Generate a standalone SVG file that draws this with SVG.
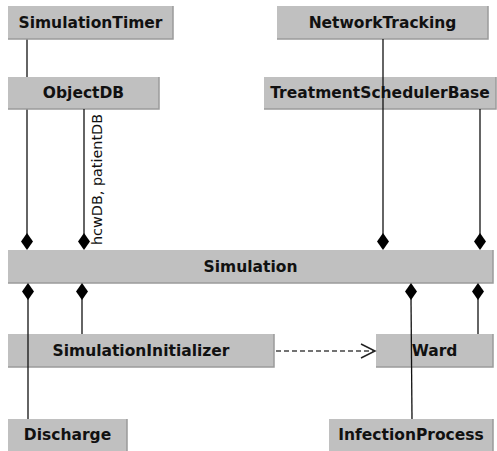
<svg xmlns="http://www.w3.org/2000/svg" width="497" height="451" viewBox="0 0 497 451">
<defs>
<style>
.box{fill:#c0c0c0;}
.edge{stroke:#9a9a9a;stroke-width:1.5;fill:none;}
.t{font-family:"DejaVu Sans",sans-serif;font-weight:bold;font-size:15.5px;fill:#111;text-anchor:middle;}
.lbl{font-family:"DejaVu Sans",sans-serif;font-size:14.4px;fill:#111;}
.ln{stroke:#111;stroke-width:1.3;fill:none;}
.dm{fill:#000;}
</style>
<path id="dmd" d="M0,-8.5 L6,0 L0,8.5 L-6,0 Z"/>
</defs>
<rect x="0" y="0" width="497" height="451" fill="#fff"/>
<g id="connectors-under">
<line class="ln" x1="27" y1="39" x2="27" y2="235"/>
</g>
<g id="SimulationTimer">
<rect class="box" x="8" y="6" width="165" height="33"/>
<polyline class="edge" points="173,6 173,39 8,39"/>
<text class="t" x="90.5" y="27.5">SimulationTimer</text>
</g>
<g id="NetworkTracking">
<rect class="box" x="277" y="6" width="211" height="33"/>
<polyline class="edge" points="488,6 488,39 277,39"/>
<text class="t" x="382.5" y="27.5">NetworkTracking</text>
</g>
<g id="ObjectDB">
<rect class="box" x="8" y="77" width="151" height="32"/>
<polyline class="edge" points="159,77 159,109 8,109"/>
<text class="t" x="83.5" y="98">ObjectDB</text>
</g>
<g id="TreatmentSchedulerBase">
<rect class="box" x="264" y="77" width="232" height="32"/>
<polyline class="edge" points="496,77 496,109 264,109"/>
<text class="t" x="380" y="98">TreatmentSchedulerBase</text>
</g>
<g id="Simulation">
<rect class="box" x="8" y="250" width="485" height="33"/>
<polyline class="edge" points="493,250 493,283 8,283"/>
<text class="t" x="250.5" y="271.5">Simulation</text>
</g>
<g id="SimulationInitializer">
<rect class="box" x="8" y="334" width="266" height="33"/>
<polyline class="edge" points="274,334 274,367 8,367"/>
<text class="t" x="141" y="355.5">SimulationInitializer</text>
</g>
<g id="Ward">
<rect class="box" x="376" y="334" width="117" height="33"/>
<polyline class="edge" points="493,334 493,367 376,367"/>
<text class="t" x="434.5" y="355.5">Ward</text>
</g>
<g id="Discharge">
<rect class="box" x="8" y="419" width="119" height="32"/>
<polyline class="edge" points="127,419 127,451"/>
<text class="t" x="67.5" y="440">Discharge</text>
</g>
<g id="InfectionProcess">
<rect class="box" x="329" y="419" width="164" height="32"/>
<polyline class="edge" points="493,419 493,451"/>
<text class="t" x="411" y="440">InfectionProcess</text>
</g>
<g id="connectors">
<line class="ln" x1="84" y1="109" x2="84" y2="235"/>
<line class="ln" x1="383" y1="39" x2="383" y2="235"/>
<line class="ln" x1="480" y1="109" x2="480" y2="235"/>
<line class="ln" x1="28" y1="298" x2="28" y2="419"/>
<line class="ln" x1="82" y1="298" x2="82" y2="334"/>
<line class="ln" x1="411" y1="298" x2="412" y2="419"/>
<line class="ln" x1="478" y1="298" x2="478" y2="334"/>
<use href="#dmd" class="dm" x="27" y="241.5"/>
<use href="#dmd" class="dm" x="84" y="241.5"/>
<use href="#dmd" class="dm" x="383" y="241.5"/>
<use href="#dmd" class="dm" x="480" y="241.5"/>
<use href="#dmd" class="dm" x="28" y="291.5"/>
<use href="#dmd" class="dm" x="82" y="291.5"/>
<use href="#dmd" class="dm" x="411" y="291.5"/>
<use href="#dmd" class="dm" x="478" y="291.5"/>
<text class="lbl" transform="translate(102,245) rotate(-90)">hcwDB, patientDB</text>
<line x1="276" y1="351" x2="374" y2="351" stroke="#444" stroke-width="1.3" stroke-dasharray="5,3"/>
<polyline points="361,344 375,351 361,358" fill="none" stroke="#222" stroke-width="1.5"/>
</g>
</svg>
